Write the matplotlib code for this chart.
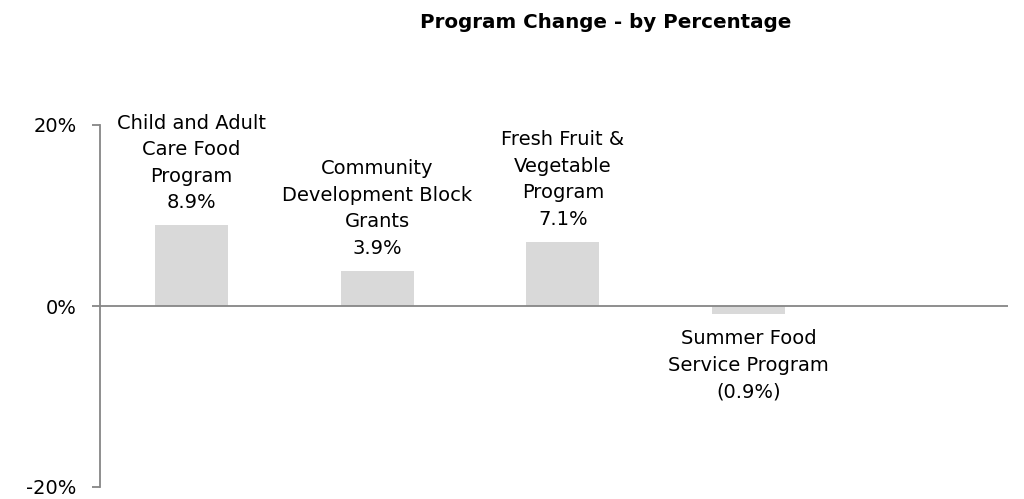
import matplotlib
matplotlib.use("Agg")
import matplotlib.pyplot as plt

categories = ["Child and Adult\nCare Food\nProgram", "Community\nDevelopment Block\nGrants",
              "Fresh Fruit &\nVegetable\nProgram", "Summer Food\nService Program", ""]
values = [8.9, 3.9, 7.1, -0.9, None]
value_labels = ["8.9%", "3.9%", "7.1%", "(0.9%)", ""]
yticks = [-20, 0, 20]
ytick_labels = ["-20%", "0%", "20%"]

plt.rcParams['font.family'] = ['DejaVu Sans']
fig = plt.figure(figsize=(10.24, 4.99), dpi=100)
ax = fig.add_axes([100/1024, 1-487/499, (1008-100)/1024, (487-125)/499])

xs = list(range(len(categories)))
bx = [x for x, v in zip(xs, values) if v is not None]
bv = [v for v in values if v is not None]
ax.bar(bx, bv, width=0.393, color="#d9d9d9", zorder=2)
ax.axhline(0, color="#868686", lw=1.3, zorder=3)

for x, v, c, lab in zip(xs, values, categories, value_labels):
    if v is None:
        continue
    txt = c + "\n" + lab
    if v >= 0:
        ax.annotate(txt, (x, v), xytext=(0, 9.5), textcoords="offset points",
                    ha="center", va="bottom", fontsize=14, linespacing=1.5, color="#000000")
    else:
        ax.annotate(txt, (x, v), xytext=(0, -11), textcoords="offset points",
                    ha="center", va="top", fontsize=14, linespacing=1.5, color="#000000")

ax.set_xlim(-0.493, 4.397)
ax.set_ylim(-20, 20)
ax.set_yticks(yticks)
ax.set_yticklabels(ytick_labels, fontsize=14)
ax.set_xticks([])
for s in ["top", "right", "bottom"]:
    ax.spines[s].set_visible(False)
ax.spines["left"].set_color("#868686")
ax.spines["left"].set_linewidth(1.3)
ax.tick_params(axis="y", length=6, color="#868686", width=1.3, pad=11)

fig.text(606/1024, 1-22/499, "Program Change - by Percentage", ha="center", va="center",
         fontsize=14.3, fontweight="bold")

fig.savefig("out.png", dpi=100)
